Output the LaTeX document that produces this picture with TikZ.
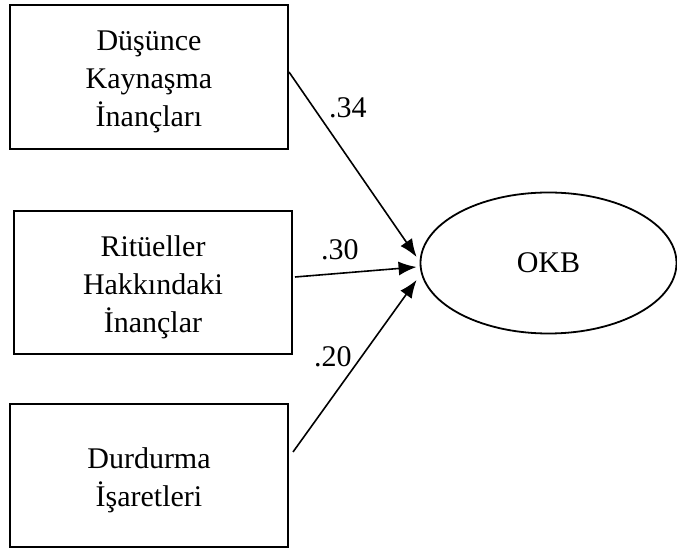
\documentclass[tikz,border=0pt]{standalone}
\usepackage{fontspec}
\setmainfont{Liberation Serif}
\usepackage{tikz}
\usetikzlibrary{shapes, arrows.meta}
\newcommand{\satir}{\rule[-3pt]{0pt}{18pt}}

\begin{document}
\begin{tikzpicture}[>={Latex[length=9pt,width=7pt]}, x=0.5pt, y=-0.5pt,
  factor/.style={rectangle, draw, line width=1pt, fill=white,
    minimum width=139pt, minimum height=72pt, align=center,
    font=\fontsize{15}{19}\selectfont},
  coef/.style={font=\fontsize{15}{19}\selectfont}]

\useasboundingbox (0,0) rectangle (677,551);

%Dusunce kaynasma
\node[factor] (dki) at (149,77) {
    \satir Düşünce\\
    Kaynaşma\\
    İnançları\satir
    };

%Rituel inanclari
\node[factor, minimum height=71.5pt] (rhi) at (153,282.5) {
    \satir Ritüeller\\
    Hakkındaki\\
    İnançlar\satir
    };

%Durdurma
\node[factor, minimum height=71.5pt] (dis) at (149,475.5) {
    \satir Durdurma\\
    İşaretleri\satir
    };

%OKB
\node[ellipse, draw, line width=0.9pt, fill=white,
minimum width=128pt, minimum height=70.5pt, inner sep=0pt,
font=\fontsize{15}{19}\selectfont] (okb) at (548.5,263) {OKB};

%coefficients
\node[coef] (c34) at (348,108) {.34};
\node[coef] (c30) at (340,250) {.30};
\node[coef] (c20) at (333,357) {.20};

%Paths
%dusunce kaynasma to okb
\draw[->, line width=0.8pt] ([yshift=2.5pt]dki.east) -- ([xshift=-1.5pt, yshift=3pt]okb.west);
%rituel to okb
\draw[->, line width=0.8pt] ([xshift=1pt, yshift=2.75pt]rhi.east) -- ([xshift=-1.5pt, yshift=-2pt]okb.west);
%durdurma to okb
\draw[->, line width=0.8pt] ([xshift=2pt, yshift=11.75pt]dis.east) -- ([xshift=-1.5pt, yshift=-8.5pt]okb.west);

\end{tikzpicture}
\end{document}
